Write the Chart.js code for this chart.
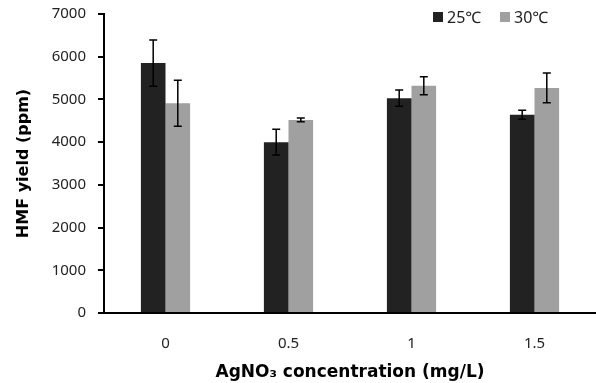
<!DOCTYPE html>
<html>
<head>
<meta charset="utf-8">
<script src="https://cdn.jsdelivr.net/npm/chart.js@4/dist/chart.umd.min.js"></script>
<style>
  html, body { margin: 0; padding: 0; background: #fff; }
  #wrap { width: 596px; height: 383px; }
</style>
</head>
<body>
<div id="wrap"><canvas id="chart"></canvas></div>
<script>
'use strict';

var CATEGORIES = ['0', '0.5', '1', '1.5'];
var SERIES_NAMES = ['25\u2103', '30\u2103'];
var YIELD_25 = [5850, 4000, 5030, 4640];
var YIELD_30 = [4910, 4520, 5320, 5270];
var ERR_25 = [540, 300, 190, 105];
var ERR_30 = [540, 45, 210, 350];
var Y_TICKS = [0, 1000, 2000, 3000, 4000, 5000, 6000, 7000];

var COLORS = ['#222222', '#a0a0a0'];
var FONT = "'Noto Sans', 'DejaVu Sans', sans-serif";
var TITLE_FONT = "'DejaVu Sans', sans-serif";

// error bars, drawn on top of each bar using the y scale
var errorBars = {
	id: 'errorBars',
	afterDatasetsDraw: function(chart) {
		var ctx = chart.ctx;
		var yScale = chart.scales.y;
		ctx.save();
		ctx.strokeStyle = '#000';
		ctx.lineWidth = 1.5;
		chart.data.datasets.forEach(function(ds, i) {
			var meta = chart.getDatasetMeta(i);
			meta.data.forEach(function(bar, j) {
				var v = ds.data[j];
				var e = ds.errors[j];
				var yTop = yScale.getPixelForValue(v + e);
				var yBot = yScale.getPixelForValue(v - e);
				var x = bar.x;
				ctx.beginPath();
				ctx.moveTo(x, yTop);
				ctx.lineTo(x, yBot);
				ctx.moveTo(x - 4, yTop);
				ctx.lineTo(x + 4, yTop);
				ctx.moveTo(x - 4, yBot);
				ctx.lineTo(x + 4, yBot);
				ctx.stroke();
			});
		});
		ctx.restore();
	}
};

// small legend in the top right corner, overlapping the plot area
var cornerLegend = {
	id: 'cornerLegend',
	afterDraw: function(chart) {
		var ctx = chart.ctx;
		var xs = [433, 500];
		ctx.save();
		ctx.font = '16px ' + FONT;
		ctx.textBaseline = 'middle';
		chart.data.datasets.forEach(function(ds, i) {
			ctx.fillStyle = ds.backgroundColor;
			ctx.fillRect(xs[i], 12, 10, 10);
			ctx.fillStyle = '#222';
			ctx.fillText(ds.label, xs[i] + 14, 18);
		});
		ctx.restore();
	}
};

var ctx = document.getElementById('chart').getContext('2d');
var chart = new Chart(ctx, {
	type: 'bar',
	data: {
		labels: CATEGORIES,
		datasets: [{
			label: SERIES_NAMES[0],
			data: YIELD_25,
			errors: ERR_25,
			backgroundColor: COLORS[0]
		}, {
			label: SERIES_NAMES[1],
			data: YIELD_30,
			errors: ERR_30,
			backgroundColor: COLORS[1]
		}]
	},
	options: {
		responsive: true,
		maintainAspectRatio: false,
		animation: false,
		datasets: {
			bar: {
				categoryPercentage: 0.4,
				barPercentage: 1.0
			}
		},
		layout: {
			padding: { top: 14, right: 0, left: 14, bottom: 0 }
		},
		plugins: {
			legend: { display: false },
			tooltip: { enabled: false }
		},
		scales: {
			x: {
				grid: { display: true, drawOnChartArea: false, drawTicks: false },
				border: { color: '#000', width: 2 },
				ticks: {
					color: '#222',
					padding: 22,
					font: { family: FONT, size: 15 }
				},
				title: {
					display: true,
					text: 'AgNO\u2083 concentration (mg/L)',
					color: '#000',
					font: { family: TITLE_FONT, size: 17, weight: 'bold' },
					padding: { top: 8, bottom: 0 }
				},
				afterFit: function(scale) { scale.height = 70; }
			},
			y: {
				min: 0,
				max: 7000,
				afterBuildTicks: function(scale) {
					scale.ticks = Y_TICKS.map(function(v) { return { value: v }; });
				},
				grid: {
					drawOnChartArea: false,
					drawTicks: true,
					tickLength: 6,
					color: '#000',
					lineWidth: 2
				},
				border: { color: '#000', width: 2 },
				ticks: {
					color: '#222',
					padding: 12,
					font: { family: FONT, size: 15 },
					callback: function(v) { return String(v); }
				},
				title: {
					display: true,
					text: 'HMF yield (ppm)',
					color: '#000',
					font: { family: TITLE_FONT, size: 16, weight: 'bold' },
					padding: { top: 0, bottom: 10 }
				},
				afterFit: function(scale) {
					scale.width = 90;
					scale.paddingTop = 0;
					scale.paddingBottom = 0;
				}
			}
		}
	},
	plugins: [errorBars, cornerLegend]
});
</script>
</body>
</html>
